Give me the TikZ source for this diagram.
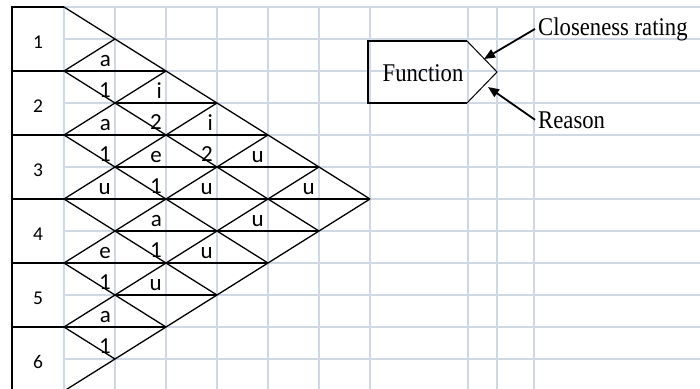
\documentclass[tikz,border=0pt]{standalone}
\usepackage{fontspec}
\setmainfont[FakeStretch=0.89]{Liberation Serif}
\newfontfamily\calib{Carlito}
\usetikzlibrary{arrows.meta}

\begin{document}
\begin{tikzpicture}[x=1pt, y=-1pt, >={Triangle[length=11pt,width=9pt]},
grid/.style={draw={rgb,255:red,208;green,215;blue,229}, line width=1.4pt},
relline/.style={draw=black, line width=1.3pt},
relcut/.style={draw=black, line width=1.9pt},
dept/.style={font=\calib\fontsize{19.5}{22}\selectfont, inner sep=0pt, anchor=base},
lbl/.style={font=\calib\fontsize{23}{25}\selectfont, inner sep=0pt, anchor=base east},
txt/.style={font=\fontsize{25.5}{28}\selectfont, inner sep=0pt},
arr/.style={->, line width=1.8pt}]
\useasboundingbox (0,0) rectangle (700,388);
% spreadsheet grid
\foreach \y in {7,39,71,103,135,167,199,231,263,295,327,359}
  \draw[grid] (64,\y) -- (700,\y);
\foreach \x in {64,115,166,217,268,319,370,468,497,534}
  \draw[grid] (\x,7) -- (\x,391);
% department column
\draw[line width=2.4pt] (64,7) -- (12,7) -- (12,391);
\node[dept] (d1) at (38,48) {1};
\node[dept] (d2) at (38,112) {2};
\node[dept] (d3) at (38,176) {3};
\node[dept] (d4) at (38,240) {4};
\node[dept] (d5) at (38,304) {5};
\node[dept] (d6) at (38,368) {6};
% diamonds
\draw[relline] (64,7) -- (370,199);
\draw[relline] (64,71) -- (319,231);
\draw[relline] (64,135) -- (268,263);
\draw[relline] (64,199) -- (217,295);
\draw[relline] (64,263) -- (166,327);
\draw[relline] (64,327) -- (115,359);
\draw[relline] (64,71) -- (115,39);
\draw[relline] (64,135) -- (166,71);
\draw[relline] (64,199) -- (217,103);
\draw[relline] (64,263) -- (268,135);
\draw[relline] (64,327) -- (319,167);
\draw[relline] (64,391) -- (370,199);
% splits between rating and reason
\draw[relcut] (12,71) -- (166,71);
\draw[relcut] (115,103) -- (217,103);
\draw[relcut] (12,135) -- (268,135);
\draw[relcut] (115,167) -- (319,167);
\draw[relcut] (12,199) -- (370,199);
\draw[relcut] (115,231) -- (319,231);
\draw[relcut] (12,263) -- (268,263);
\draw[relcut] (115,295) -- (217,295);
\draw[relcut] (12,327) -- (166,327);
% ratings and reasons
\node[lbl] (r12) at (111,66) {a};
\node[lbl] (c12) at (111,97) {1};
\node[lbl] (r13) at (162,98) {i};
\node[lbl] (c13) at (162,129) {2};
\node[lbl] (r23) at (111,130) {a};
\node[lbl] (c23) at (111,161) {1};
\node[lbl] (r14) at (213,130) {i};
\node[lbl] (c14) at (213,161) {2};
\node[lbl] (r24) at (162,162) {e};
\node[lbl] (c24) at (162,193) {1};
\node[lbl] (r15) at (264,162) {u};
\node[lbl] (r34) at (111,194) {u};
\node[lbl] (r25) at (213,194) {u};
\node[lbl] (r16) at (315,194) {u};
\node[lbl] (r35) at (162,226) {a};
\node[lbl] (c35) at (162,257) {1};
\node[lbl] (r26) at (264,226) {u};
\node[lbl] (r45) at (111,258) {e};
\node[lbl] (c45) at (111,289) {1};
\node[lbl] (r36) at (213,258) {u};
\node[lbl] (r46) at (162,290) {u};
\node[lbl] (r56) at (111,322) {a};
\node[lbl] (c56) at (111,353) {1};
% legend
\node[txt, anchor=base] (fn) at (423,81) {Function};
\draw[line width=2pt] (467,41) -- (368,41) -- (368,103) -- (467,103);
\draw[line width=1pt] (467,41) -- (497,72) -- (467,103);
\coordinate (ctip) at (484,59);
\coordinate (rtip) at (488,87);
\node[txt, anchor=base west] (cr) at (538,35) {Closeness rating};
\node[txt, anchor=base west] (rs) at (538,128) {Reason};
\draw[arr] ([xshift=-3pt]cr.west) -- (ctip);
\draw[arr] ([xshift=-3pt]rs.west) -- (rtip);
\end{tikzpicture}
\end{document}
